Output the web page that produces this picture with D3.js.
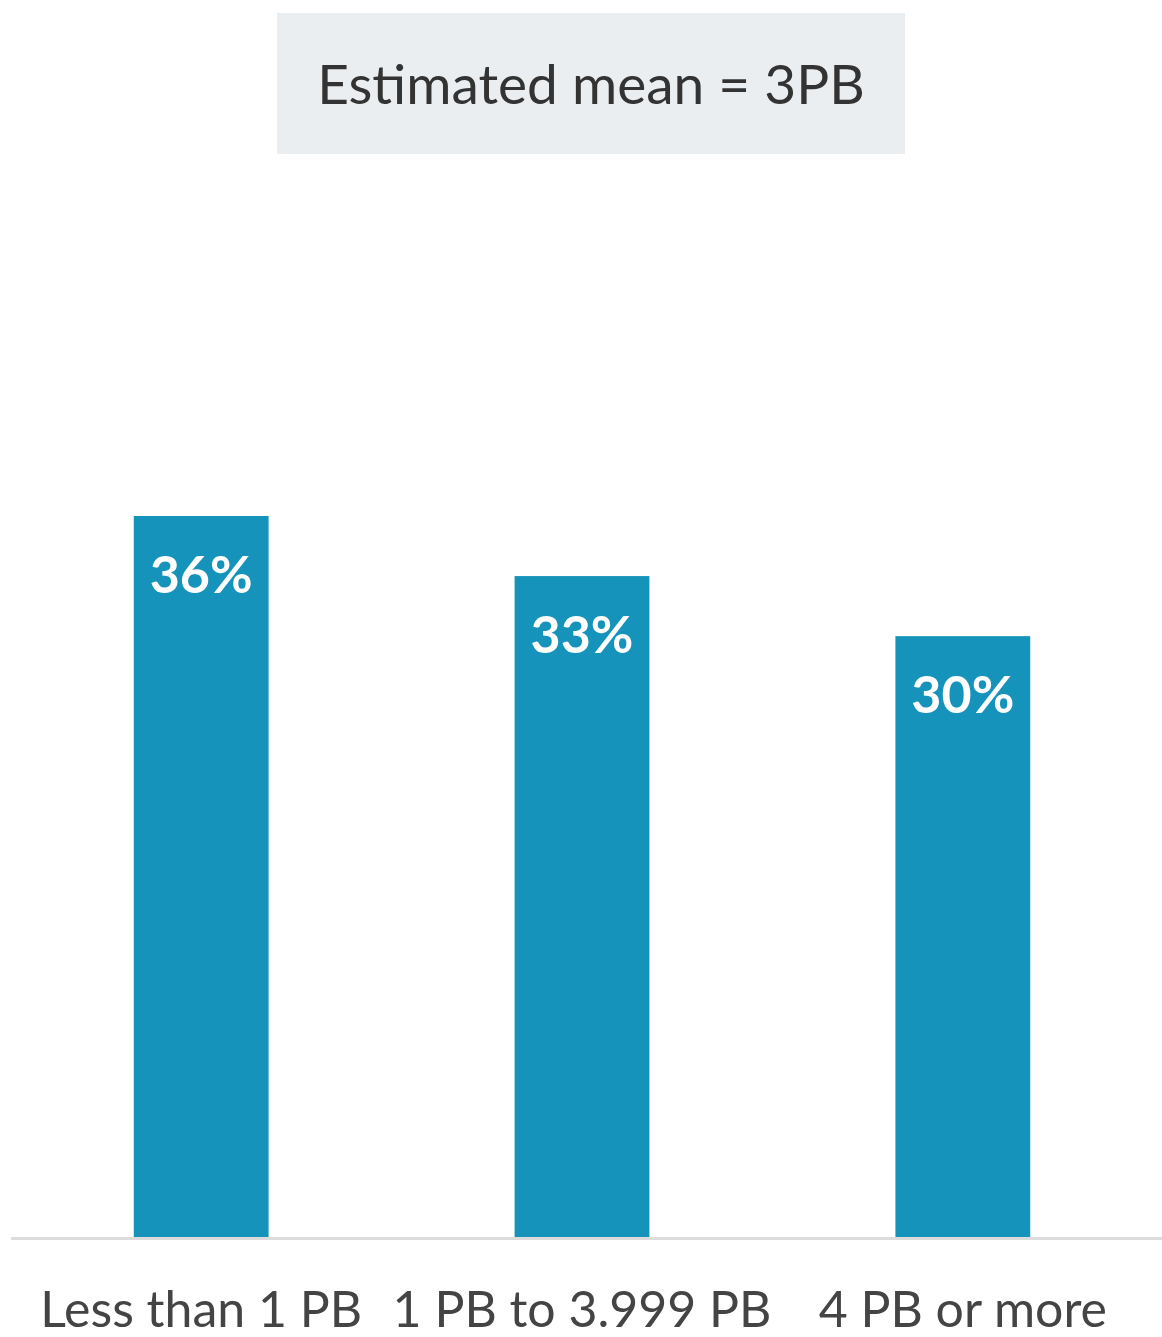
<!DOCTYPE html>
<html>
<head>
<meta charset="utf-8">
<script src="https://cdn.jsdelivr.net/npm/d3@7"></script>
<style>
  body { margin: 0; background: #fff; }
  svg text { font-family: Lato, "Open Sans", sans-serif; }
</style>
</head>
<body>
<div id="chart"></div>
<script>
// chart data
const categories = ["Less than 1 PB", "1 PB to 3.999 PB", "4 PB or more"];
const shares = [36, 33, 30];
const valueLabels = ["36%", "33%", "30%"];
const noteText = "Estimated mean = 3PB";

const width = 1162, height = 1337;
const baseY = 1237;

const svg = d3.select("#chart").append("svg")
  .attr("width", width)
  .attr("height", height);

// x scale: three bands across the plot
let x = d3.scaleBand()
  .domain(categories)
  .range([10, 1154])
  .paddingInner(0.646)
  .paddingOuter(0.325);

// y scale: percent, zero at the baseline
let y = d3.scaleLinear()
  .domain([0, 36])
  .range([baseY, 516]);

// note box
svg.append("rect")
  .attr("x", 277)
  .attr("y", 13)
  .attr("width", 628)
  .attr("height", 141)
  .attr("fill", "#ebeef0");

svg.append("text")
  .attr("x", 591)
  .attr("y", 104)
  .attr("text-anchor", "middle")
  .attr("fill", "#333")
  .style("font-size", "55px")
  .text(noteText);

// bars
let data = categories.map((c, i) => ({ cat: c, v: shares[i], label: valueLabels[i] }));

svg.selectAll("rect.bar")
  .data(data)
  .join("rect")
  .attr("class", "bar")
  .attr("x", d => x(d.cat))
  .attr("y", d => y(d.v))
  .attr("width", x.bandwidth())
  .attr("height", d => baseY - y(d.v))
  .attr("fill", "#1593ba");

svg.selectAll("text.val")
  .data(data)
  .join("text")
  .attr("class", "val")
  .attr("x", d => x(d.cat) + x.bandwidth() / 2)
  .attr("y", d => y(d.v) + 77)
  .attr("text-anchor", "middle")
  .attr("fill", "#fff")
  .style("font-size", "52px")
  .style("font-weight", "bold")
  .text(d => d.label);

// baseline
svg.append("line")
  .attr("x1", 11)
  .attr("x2", width)
  .attr("y1", baseY + 1.5)
  .attr("y2", baseY + 1.5)
  .attr("stroke", "#dcdcdc")
  .attr("stroke-width", 3);

// category labels
svg.append("g")
  .attr("transform", "translate(0," + baseY + ")")
  .call(d3.axisBottom(x).tickSize(0).tickPadding(90))
  .call(g => g.select(".domain").remove())
  .selectAll("text")
  .attr("fill", "#444")
  .attr("dy", 0)
  .style("font-family", "Lato, sans-serif")
  .style("font-size", "50px");
</script>
</body>
</html>
